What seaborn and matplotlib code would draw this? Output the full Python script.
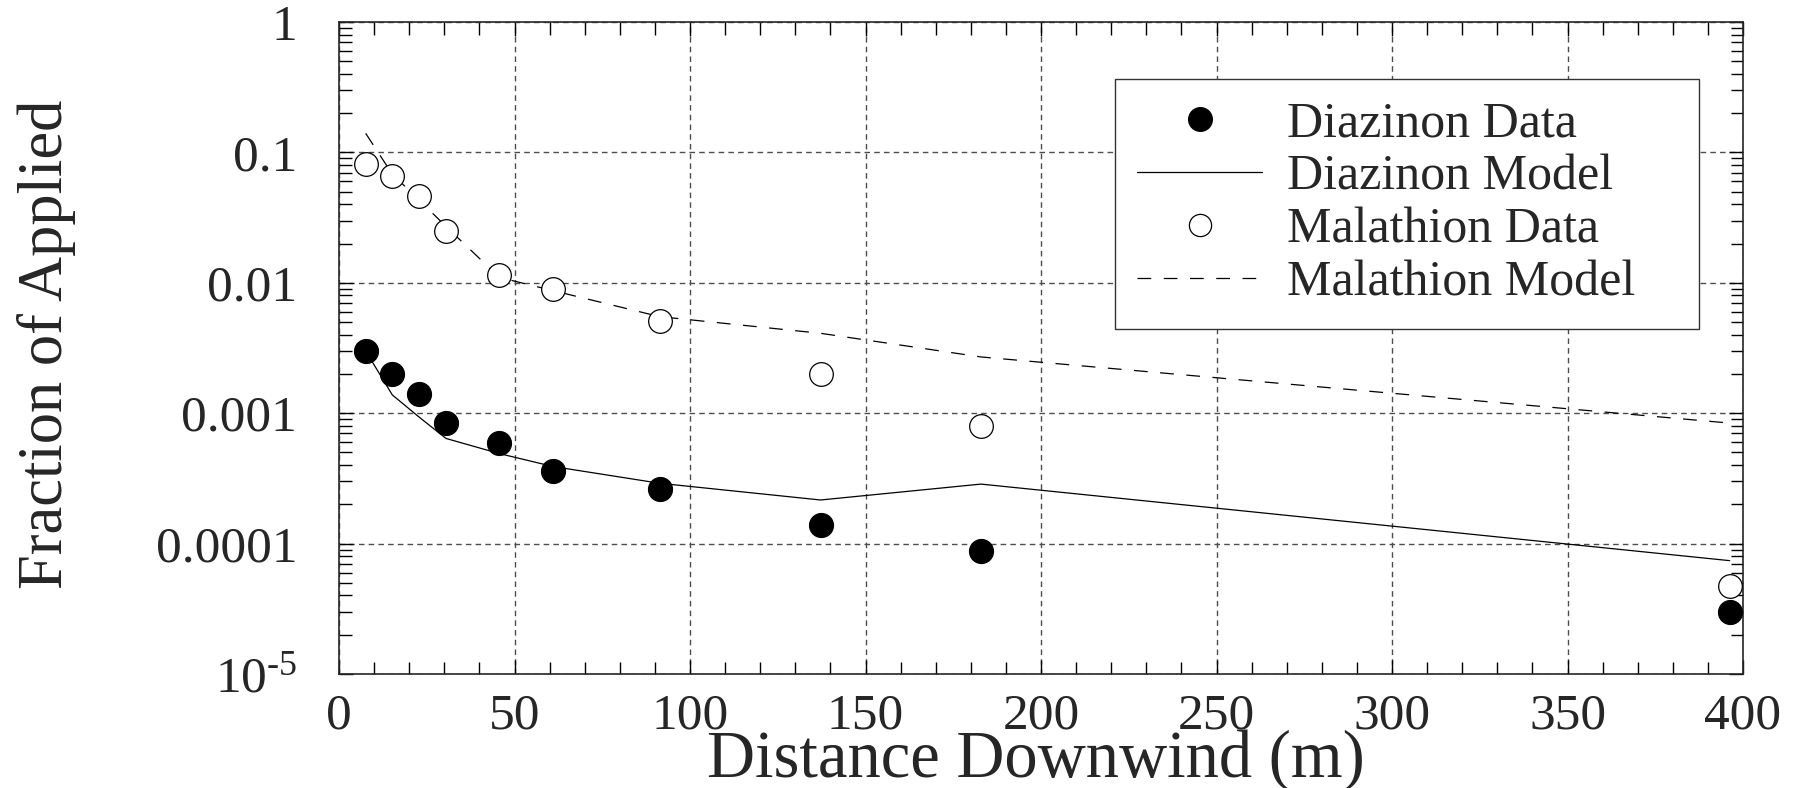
import numpy as np
import pandas as pd
import seaborn as sns
import matplotlib.pyplot as plt
from matplotlib.ticker import FixedLocator, FixedFormatter, MultipleLocator, LogLocator, NullFormatter
from matplotlib.lines import Line2D

# distances downwind (m) and fractions of applied
distance = [7.6, 15.2, 22.9, 30.5, 45.7, 61.0, 91.4, 137.2, 182.9, 396.2]
diazinon_data = [0.0030, 0.0020, 0.0014, 0.00084, 0.00059, 0.00036, 0.00026, 0.00014, 0.000088, 0.000030]
diazinon_model = [0.0030, 0.00138, 0.00093, 0.00064, 0.00049, 0.00039, 0.00029, 0.000216, 0.000286, 0.000074]
malathion_data = [0.081, 0.066, 0.046, 0.025, 0.0115, 0.0090, 0.0051, 0.0020, 0.00080, 0.000047]
malathion_model = [0.14, 0.068, 0.043, 0.027, 0.011, 0.0087, 0.0055, 0.0041, 0.0027, 0.00084]

y_ticks = [1e-5, 1e-4, 1e-3, 1e-2, 1e-1, 1]
y_tick_labels = ["$\\mathrm{10^{\\text{-}5}}$", "0.0001", "0.001", "0.01", "0.1", "1"]

df = pd.DataFrame({
    "distance": distance,
    "diazinon_data": diazinon_data,
    "diazinon_model": diazinon_model,
    "malathion_data": malathion_data,
    "malathion_model": malathion_model,
})

sns.set_theme(style="ticks")
plt.rcParams["font.family"] = ["Liberation Serif", "DejaVu Serif"]
plt.rcParams["mathtext.fontset"] = "custom"
plt.rcParams["mathtext.rm"] = "Liberation Serif"
plt.rcParams["axes.linewidth"] = 1.2

fig = plt.figure(figsize=(18.12, 7.88), dpi=100)
ax = fig.add_axes([339 / 1812, 1 - 674 / 788, 1404 / 1812, 652 / 788])

model_dash = (0, (11, 10))

sns.lineplot(data=df, x="distance", y="diazinon_model", ax=ax, color="black",
             linewidth=0.9, sort=False, estimator=None, zorder=3)
sns.lineplot(data=df, x="distance", y="malathion_model", ax=ax, color="black",
             linewidth=0.9, linestyle=model_dash, sort=False, estimator=None, zorder=3)
sns.scatterplot(data=df, x="distance", y="diazinon_data", ax=ax, s=300,
                color="black", edgecolor="black", linewidth=0.8, zorder=4)
sns.scatterplot(data=df, x="distance", y="malathion_data", ax=ax, s=290,
                color="white", edgecolor="black", linewidth=0.9, zorder=4)

ax.set_yscale("log")
ax.set_xlim(0, 400)
ax.set_ylim(1e-5, 1)

ax.xaxis.set_major_locator(MultipleLocator(50))
ax.xaxis.set_minor_locator(MultipleLocator(10))
ax.yaxis.set_major_locator(FixedLocator(y_ticks))
ax.yaxis.set_major_formatter(FixedFormatter(y_tick_labels))
ax.yaxis.set_minor_locator(LogLocator(base=10, subs=np.arange(2, 10)))
ax.yaxis.set_minor_formatter(NullFormatter())

ax.grid(True, which="major", color="0.3", linestyle=(0, (4, 3)), linewidth=1)
ax.set_axisbelow(True)

ax.tick_params(which="both", direction="in", top=True, right=True, width=1, color="black")
ax.tick_params(which="major", length=10)
ax.tick_params(which="minor", length=9)
ax.tick_params(axis="x", which="major", labelsize=37, pad=14)
ax.tick_params(axis="y", which="major", labelsize=37, pad=30)

ax.set_xlabel("Distance Downwind (m)", fontsize=48)
ax.xaxis.label.set_va("baseline")
ax.xaxis.set_label_coords(0.496, -0.158)
ax.set_ylabel("Fraction of Applied", fontsize=45)
ax.yaxis.set_label_coords(-0.187, 0.506)

handles = [
    Line2D([], [], linestyle="none", marker="o", markersize=17, markerfacecolor="black",
           markeredgecolor="black"),
    Line2D([], [], color="black", linewidth=0.9),
    Line2D([], [], linestyle="none", marker="o", markersize=16, markerfacecolor="white",
           markeredgecolor="black", markeredgewidth=0.9),
    Line2D([], [], color="black", linewidth=0.9, linestyle=model_dash),
]
labels = ["Diazinon Data", "Diazinon Model", "Malathion Data", "Malathion Model"]
leg = ax.legend(handles, labels, loc="upper left", mode="expand",
                bbox_to_anchor=(0.5527, 0.5, 0.416, 0.4126), borderaxespad=0,
                fontsize=36, handlelength=2.5, handletextpad=0.5, labelspacing=0.13,
                borderpad=0.45, frameon=True, fancybox=False, framealpha=1)
leg.get_frame().set_edgecolor("0.2")
leg.get_frame().set_linewidth(1)

fig.savefig("out.png", dpi=100)
